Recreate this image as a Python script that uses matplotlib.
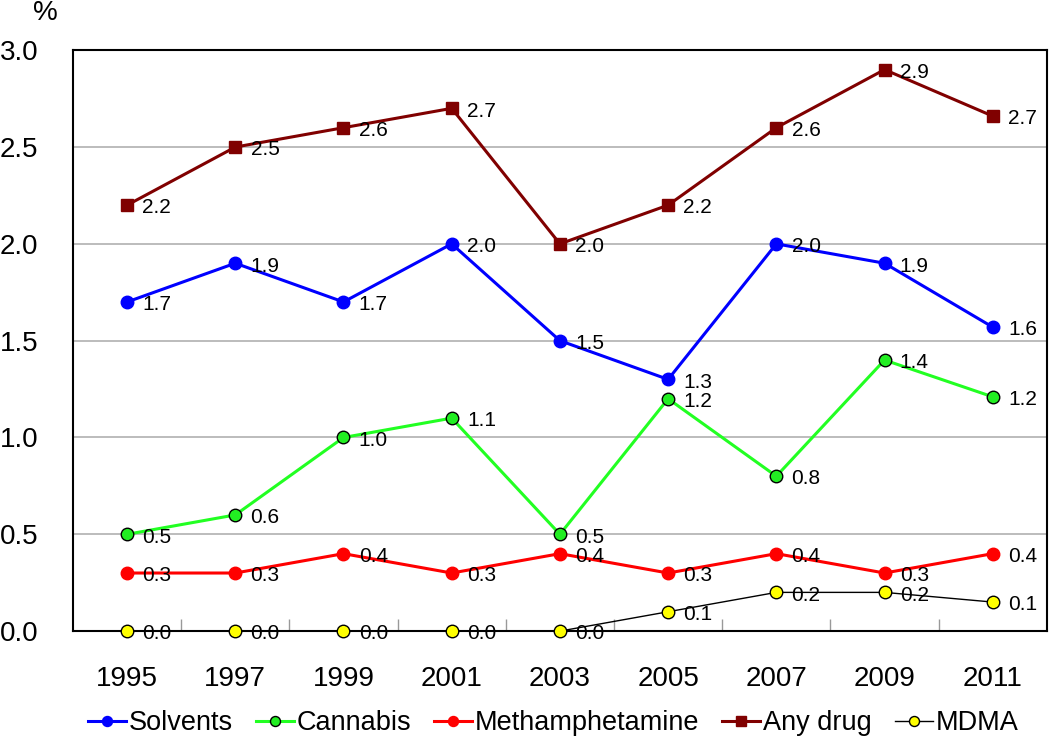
import matplotlib
matplotlib.use("Agg")
import matplotlib.pyplot as plt
import numpy as np

plt.rcParams['font.family'] = ['Liberation Sans', 'DejaVu Sans']

years = ['1995', '1997', '1999', '2001', '2003', '2005', '2007', '2009', '2011']
solvents = [1.7, 1.9, 1.7, 2.0, 1.5, 1.3, 2.0, 1.9, 1.57]
cannabis = [0.5, 0.6, 1.0, 1.1, 0.5, 1.2, 0.8, 1.4, 1.21]
meth = [0.3, 0.3, 0.4, 0.3, 0.4, 0.3, 0.4, 0.3, 0.4]
any_drug = [2.2, 2.5, 2.6, 2.7, 2.0, 2.2, 2.6, 2.9, 2.66]
mdma = [0.0, 0.0, 0.0, 0.0, 0.0, 0.1, 0.2, 0.2, 0.15]
yticks = [0.0, 0.5, 1.0, 1.5, 2.0, 2.5, 3.0]

fig = plt.figure(figsize=(10.5, 7.39), dpi=100)
ax = fig.add_axes([0.0695, 0.146, 0.9275, 0.786])
x = np.arange(len(years))

series = [
    ('Solvents', solvents, dict(color='#0000FF', marker='o', markersize=9, markerfacecolor='#0000FF', markeredgecolor='#0000FF', linewidth=2.2)),
    ('Cannabis', cannabis, dict(color='#22FF22', marker='o', markersize=9, markerfacecolor='#22EE22', markeredgecolor='black', markeredgewidth=1.0, linewidth=2.2)),
    ('Methamphetamine', meth, dict(color='#FF0000', marker='o', markersize=9, markerfacecolor='#FF0000', markeredgecolor='#FF0000', linewidth=2.2)),
    ('Any drug', any_drug, dict(color='#800000', marker='s', markersize=8.5, markerfacecolor='#800000', markeredgecolor='#800000', linewidth=2.2)),
    ('MDMA', mdma, dict(color='black', marker='o', markersize=9, markerfacecolor='#FFFF00', markeredgecolor='black', markeredgewidth=1.0, linewidth=1.0)),
]

for name, vals, st in series:
    ax.plot(x, vals, label=name, zorder=3, clip_on=False, **st)
    for xi, v in zip(x, vals):
        ax.annotate(f"{v:.1f}", (xi, v), xytext=(11, -2), textcoords='offset points',
                    ha='left', va='center', fontsize=15, color='black', zorder=5,
                    annotation_clip=False)

ax.set_xlim(-0.5, len(years) - 0.5)
ax.set_ylim(0, 3.0)
ax.set_yticks(yticks)
ax.set_yticklabels([f"{t:.1f}" for t in yticks], fontsize=20)
ax.set_xticks(x)
ax.set_xticklabels(years, fontsize=20)
ax.set_xticks(np.arange(0.5, len(years) - 1, 1.0), minor=True)
ax.tick_params(axis='x', which='major', length=0, pad=25)
ax.tick_params(axis='x', which='minor', length=9, direction='in', color='#999999', width=1)
ax.tick_params(axis='y', length=0, pad=25)
ax.yaxis.grid(True, color='#b0b0b0', linewidth=1.2)
ax.set_axisbelow(True)
for s in ax.spines.values():
    s.set_color('black')
    s.set_linewidth(1.5)

fig.text(0.043, 0.983, '%', fontsize=20, ha='center', va='center')

ax.legend(loc='center', bbox_to_anchor=(0.527, 0.021), bbox_transform=fig.transFigure,
          ncol=5, frameon=False, fontsize=19.5, handlelength=1.4, handletextpad=0.1,
          columnspacing=0.85, borderaxespad=0, markerscale=0.8)

fig.savefig('out.png', dpi=100)
